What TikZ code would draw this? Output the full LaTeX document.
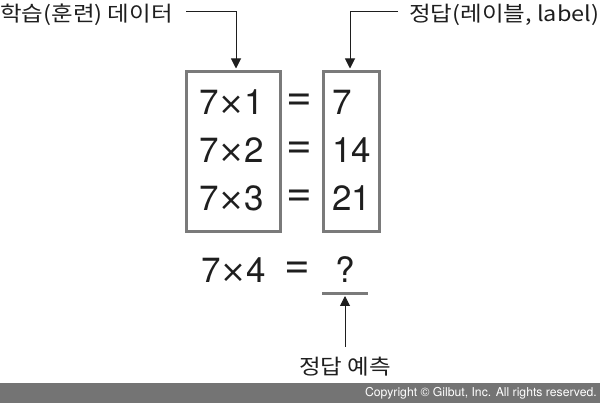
\documentclass[tikz,border=0pt]{standalone}
\usepackage{fontspec}
\setmainfont{TeX Gyre Heros}
\newfontfamily\kr{Noto Sans CJK KR}
\newfontfamily\dv{DejaVu Sans}
\usetikzlibrary{arrows.meta}
\definecolor{boxgray}{HTML}{7A7A7A}
\definecolor{ink}{HTML}{1E1E1E}
\definecolor{footgray}{HTML}{747474}
\newcommand\mulsign{{\dv\fontsize{31}{31}\selectfont ×}}
\tikzset{
  databox/.style={draw=boxgray, line width=3pt},
  eqtext/.style={font=\fontsize{35}{35}\selectfont, text=ink, inner sep=0pt, anchor=west},
  eqsign/.style={font=\fontsize{44}{44}\selectfont, text=ink, inner sep=0pt},
  krlabel/.style={font=\kr\fontsize{21}{21}\selectfont, text=ink, inner sep=0pt, xscale=1.12, transform shape},
  pointer/.style={draw=ink, line width=1pt, -{Triangle[width=10pt,length=10pt]}},
}
\begin{document}
\begin{tikzpicture}[x=1pt,y=-1pt]
\useasboundingbox (0,0) rectangle (600,403);
% boxes
\node[databox, minimum width=94pt, minimum height=160pt, inner sep=0pt] (train) at (233,152) {};
\node[databox, minimum width=56pt, minimum height=160pt, inner sep=0pt] (ans) at (351,152) {};
% equations
\node[eqtext] (a1) at (199,102) {7\mulsign1};
\node[eqtext] (a2) at (199,150) {7\mulsign2};
\node[eqtext] (a3) at (199,198) {7\mulsign3};
\node[eqsign] (e1) at (299.5,102) {=};
\node[eqsign] (e2) at (299.5,150) {=};
\node[eqsign] (e3) at (299.5,198) {=};
\node[eqtext] (b1) at (332,102) {7};
\node[eqtext] (b2) at (332,150) {14};
\node[eqtext] (b3) at (332,198) {21};
\node[eqtext] (a4) at (201,270) {7\mulsign4};
\node[eqsign] (e4) at (297.5,270) {=};
\node[eqtext, anchor=center] (q) at (345,270) {?};
% underline bar
\coordinate (barL) at (322,294);
\coordinate (barR) at (368,294);
\draw[draw=boxgray, line width=3pt] (barL) -- (barR);
\coordinate (barmid) at (345,296);
% labels
\node[krlabel, anchor=west] (lt) at (0,15) {학습(훈련) 데이터};
\node[krlabel, anchor=west] (rt) at (409,15) {정답(레이블, label)};
\node[krlabel] (pred) at (345,367) {정답 예측};
% pointers
\coordinate (l1) at (186,12);
\coordinate (l2) at (236,12);
\draw[pointer] (l1) -- (l2) -- ([yshift=2pt]train.north -| l2);
\coordinate (r1) at (398,12);
\coordinate (r2) at (350,12);
\draw[pointer] (r1) -- (r2) -- ([yshift=2pt]ans.north -| r2);
\coordinate (p1) at (345,347);
\draw[pointer] (p1) -- (barmid);
% footer
\fill[footgray] (0,383) rectangle (600,403);
\node[anchor=east, text=white, inner sep=0pt, font=\fontsize{12.2}{12.2}\selectfont] (copy) at (597,393.5) {Copyright © Gilbut, Inc. All rights reserved.};
\end{tikzpicture}
\end{document}
